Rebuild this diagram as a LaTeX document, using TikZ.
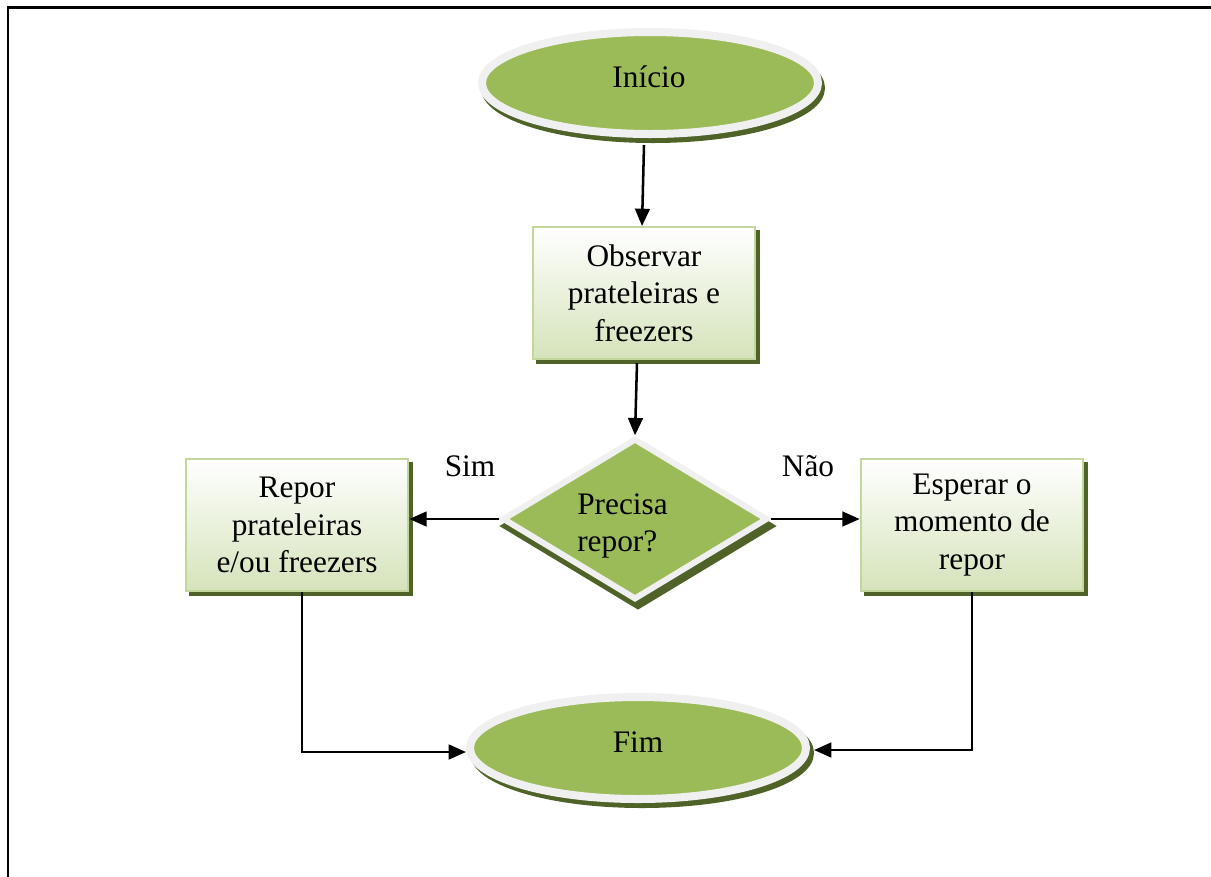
\documentclass[tikz,border=0pt]{standalone}
\usepackage{fontspec}
\setmainfont{Liberation Serif}
\usetikzlibrary{shapes.geometric,arrows.meta,calc}
\definecolor{leaf}{HTML}{9BBB59}
\definecolor{olive}{HTML}{4F6228}
\definecolor{rim}{HTML}{F0F0F0}
\definecolor{boxedge}{HTML}{C3D69B}
\definecolor{boxbot}{HTML}{D5E3BA}

\begin{document}
\begin{tikzpicture}[x=0.75pt,y=-0.75pt,
  every node/.style={font=\fontsize{23.5}{28}\selectfont, text=black},
  term/.style={ellipse, draw=rim, line width=6pt, fill=leaf,
    minimum width=252pt, minimum height=76.5pt, inner sep=0pt},
  termshadow/.style={ellipse, fill=olive, draw=olive, line width=6pt,
    minimum width=252pt, minimum height=76.5pt, inner sep=0pt},
  stepbox/.style={rectangle, draw=boxedge, line width=1.5pt,
    top color=white, bottom color=boxbot,
    minimum width=167pt, minimum height=99pt, inner sep=0pt},
  boxshadow/.style={rectangle, draw=olive, fill=olive, line width=1.5pt,
    minimum width=167pt, minimum height=99pt, inner sep=0pt},
  decision/.style={diamond, draw=rim, line width=4.5pt, fill=leaf,
    minimum width=199pt, minimum height=121pt, inner sep=0pt},
  decshadow/.style={diamond, draw=olive, fill=olive, line width=4.5pt,
    minimum width=201pt, minimum height=122pt, inner sep=0pt},
  label/.style={align=center, inner sep=0pt},
  arr/.style={line width=1.9pt, -{Triangle[length=13pt,width=11pt]}}
]
\useasboundingbox (0,0) rectangle (1211,876);

% frame around the figure
\draw[line width=2pt] (8,900) -- (8,7.5) -- (1230,7.5);

% shadows
\node[termshadow] (inicio-sh) at (653,88) {};
\node[boxshadow] (obs-sh) at (648,297) {};
\node[decshadow] (dec-sh) at (638,526) {};
\node[boxshadow] (repor-sh) at (301,529) {};
\node[boxshadow] (esp-sh) at (976,529) {};
\node[termshadow] (fim-sh) at (642,753) {};

% shapes
\node[term] (inicio) at (650,83) {};
\node[stepbox] (obs) at (644,293) {};
\node[decision] (dec) at (635,519) {};
\node[stepbox] (repor) at (297,525) {};
\node[stepbox] (esp) at (972,525) {};
\node[term] (fim) at (638,748) {};

% texts
\node[label] (inicio-t) at (649,77) {Início};
\node[label] (obs-t) at (obs) {Observar\\prateleiras e\\freezers};
\node[label, align=left, anchor=west] (dec-t) at (577,526) {Precisa\\repor?};
\node[label] (repor-t) at (repor) {Repor\\prateleiras\\e/ou freezers};
\node[label] (esp-t) at (esp) {Esperar o\\momento de\\repor};
\node[label] (fim-t) at (638,742) {Fim};
\node[label] (sim) at (470,466) {Sim};
\node[label] (nao) at (808,466) {Não};

% connectors
\draw[arr] ([shift={(-6,7)}]inicio.south) -- ([shift={(-2,0)}]obs.north);
\draw[arr] ([shift={(-7,3)}]obs.south) -- (dec.north);
\draw[arr] (dec.west) -- (dec.west -| repor.east);
\draw[arr] (dec.east) -- (dec.east -| esp.west);
\draw[arr] ([shift={(5,0)}]repor.south) |- ([shift={(0,4)}]fim.west);
\draw[arr] (esp.south) |- ([shift={(4,2)}]fim.east);
\end{tikzpicture}
\end{document}
